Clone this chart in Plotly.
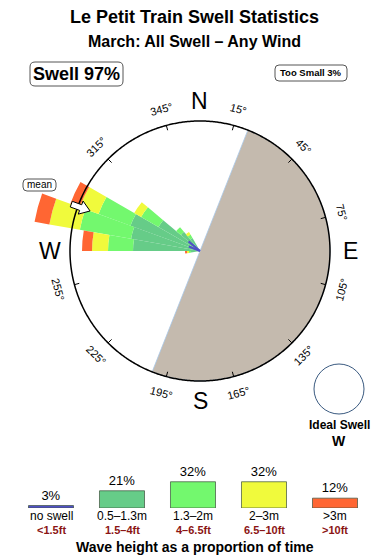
import numpy as np
import plotly.graph_objects as go

W, H = 390, 560
CX, CY = 200, 251          # rose centre (px)
R_CIRCLE = 130             # compass circle radius (radial units = px)
R_MAX = 175                # radial range of the polar area

# ---------------- data ----------------
directions = [265, 275, 285, 295, 305, 315, 325]      # bin centres (deg)
bin_width = 10
band_05_13 = [9, 67, 70, 74, 48, 25, 15]              # 0.5-1.3m
band_13_2 = [2, 25, 52, 34, 20, 6, 4]                 # 1.3-2m
band_2_3 = [2, 16, 31, 20, 8, 0, 3]                   # 2-3m
band_3p = [2, 10, 15, 10, 0, 0, 0]                    # >3m
noswell_dirs = [292, 310]
noswell_len = [12, 15]
mean_dir = 290

land_start, land_end = 21.6, 201.6

tick_deg = [15, 45, 75, 105, 135, 165, 195, 225, 255, 315, 345]
compass = ["N", "E", "S", "W"]
compass_deg = [0, 90, 180, 270]

legend_pct = [3, 21, 32, 32, 12]
legend_m = ["no swell", "0.5\u20131.3m", "1.3\u20132m", "2\u20133m", ">3m"]
legend_ft = ["<1.5ft", "1.5\u20134ft", "4\u20136.5ft", "6.5\u201310ft", ">10ft"]
band_colors = ["#5050C8", "#66CC88", "#73F86E", "#F0FA3C", "#FF6633"]

title = "Le Petit Train Swell Statistics"
subtitle = "March: All Swell \u2013 Any Wind"
swell_txt = "Swell 97%"
small_txt = "Too Small 3%"
ideal_txt = "Ideal Swell"
ideal_dir = "W"

FONT = "Liberation Sans, Arial, sans-serif"
LAND = "#C4BAAE"


def px(x):
    return x / W


def py(y):
    return 1 - y / H


def ann(x, y, text, size, color="black", angle=0, xref="paper"):
    return dict(x=x, y=py(y), xref=xref, yref="paper", text=text, showarrow=False,
                xanchor="center", yanchor="middle", textangle=angle,
                font=dict(family=FONT, size=size, color=color))


fig = go.Figure()

# land sector
fig.add_trace(go.Barpolar(r=[R_CIRCLE], theta=[(land_start + land_end) / 2],
                          width=[land_end - land_start], base=[0],
                          marker=dict(color=LAND, line=dict(color="#A8C8E8", width=0.8)),
                          hoverinfo="skip", showlegend=False))

# swell bands
bands = [band_05_13, band_13_2, band_2_3, band_3p]
base = np.zeros(len(directions))
for vals, col in zip(bands, band_colors[1:]):
    v = np.array(vals, dtype=float)
    fig.add_trace(go.Barpolar(r=v, theta=directions, width=[bin_width] * len(directions),
                              base=base.copy(),
                              marker=dict(color=col, line=dict(width=0)),
                              hoverinfo="skip", showlegend=False))
    base = base + v

# compass circle
th = np.linspace(0, 360, 721)
fig.add_trace(go.Scatterpolar(r=[R_CIRCLE] * len(th), theta=th, mode="lines",
                              line=dict(color="black", width=1.5),
                              hoverinfo="skip", showlegend=False))

# ticks
tr, tt = [], []
for t in tick_deg:
    tr += [R_CIRCLE - 5, R_CIRCLE, None]
    tt += [t, t, None]
fig.add_trace(go.Scatterpolar(r=tr, theta=tt, mode="lines",
                              line=dict(color="black", width=1),
                              hoverinfo="skip", showlegend=False))

# no swell lines
nr, nt = [], []
for d, l in zip(noswell_dirs, noswell_len):
    nr += [0, l, None]
    nt += [d, d, None]
fig.add_trace(go.Scatterpolar(r=nr, theta=nt, mode="lines",
                              line=dict(color=band_colors[0], width=2),
                              hoverinfo="skip", showlegend=False))

# mean arrow (polygon computed from mean direction)
shape_uv = [(0, -3), (10, -3), (10, -7), (20, 0), (10, 7), (10, 3), (0, 3), (0, -3)]
r0 = 137
b = np.radians(mean_dir)
d = np.array([np.sin(b), np.cos(b)])
p = np.array([np.cos(b), -np.sin(b)])
ar, at = [], []
for u, v in shape_uv:
    pt = (r0 - u) * d + v * p
    ar.append(float(np.hypot(*pt)))
    at.append(float(np.degrees(np.arctan2(pt[0], pt[1])) % 360))
fig.add_trace(go.Scatterpolar(r=ar, theta=at, mode="lines", fill="toself",
                              fillcolor="white", line=dict(color="black", width=1),
                              hoverinfo="skip", showlegend=False))

# legend bars
xs = list(range(len(legend_pct)))
fig.add_trace(go.Bar(x=xs, y=legend_pct, width=0.634,
                     marker=dict(color=band_colors, line=dict(color="rgba(60,80,60,0.7)", width=1)),
                     text=[f"{v}%" for v in legend_pct], textposition="outside",
                     textfont=dict(family=FONT, size=13, color="black"),
                     cliponaxis=False, xaxis="x", yaxis="y",
                     hoverinfo="skip", showlegend=False))

annotations = []
for i, (m, f) in enumerate(zip(legend_m, legend_ft)):
    annotations.append(ann(i, 516, m, 12, xref="x"))
    annotations.append(ann(i, 530, "<b>" + f.replace("<", "&lt;").replace(">", "&gt;") + "</b>",
                           11, color="#8B1414", xref="x"))
annotations.append(ann(px(195), 546.5, "<b>Wave height as a proportion of time</b>", 14))

# titles
annotations.append(ann(px(194), 17, f"<b>{title}</b>", 18))
annotations.append(ann(px(194), 42, f"<b>{subtitle}</b>", 16))
annotations.append(ann(px(76), 74, f"<b>{swell_txt}</b>", 18))
annotations.append(ann(px(311), 73, f"<b>{small_txt}</b>", 9.5))
annotations.append(ann(px(39.5), 185, "mean", 10))
annotations.append(ann(px(339), 425, f"<b>{ideal_txt}</b>", 12))
annotations.append(ann(px(339), 441, f"<b>{ideal_dir}</b>", 14))

# degree labels
for t in tick_deg:
    rl = 147
    x = CX + rl * np.sin(np.radians(t))
    y = CY - rl * np.cos(np.radians(t))
    ang = ((t + 90) % 180) - 90
    annotations.append(ann(px(x), y, f"{t}\u00b0", 11, angle=ang))
# compass letters
for c, t in zip(compass, compass_deg):
    rl = 150
    x = CX + rl * np.sin(np.radians(t))
    y = CY - rl * np.cos(np.radians(t))
    annotations.append(ann(px(x), y, c, 23))


def rounded(x0, y0, x1, y1, r):
    pts = [
        f"M {px(x0 + r)},{py(y0)}",
        f"L {px(x1 - r)},{py(y0)}",
        f"Q {px(x1)},{py(y0)} {px(x1)},{py(y0 + r)}",
        f"L {px(x1)},{py(y1 - r)}",
        f"Q {px(x1)},{py(y1)} {px(x1 - r)},{py(y1)}",
        f"L {px(x0 + r)},{py(y1)}",
        f"Q {px(x0)},{py(y1)} {px(x0)},{py(y1 - r)}",
        f"L {px(x0)},{py(y0 + r)}",
        f"Q {px(x0)},{py(y0)} {px(x0 + r)},{py(y0)}",
        "Z",
    ]
    return " ".join(pts)


shapes = [
    dict(type="path", path=rounded(30, 62, 123, 86, 5), xref="paper", yref="paper",
         line=dict(color="#555555", width=1)),
    dict(type="path", path=rounded(275, 65, 347, 81, 4), xref="paper", yref="paper",
         line=dict(color="#555555", width=1)),
    dict(type="path", path=rounded(23, 179, 56, 191, 4), xref="paper", yref="paper",
         line=dict(color="#555555", width=1), fillcolor="white"),
    dict(type="circle", x0=px(314), x1=px(364), y0=py(414), y1=py(364), xref="paper", yref="paper",
         line=dict(color="#3A5A80", width=1)),
]

bar_left, bar_right = 15.5, 370.5
fig.update_layout(
    width=W, height=H, margin=dict(l=0, r=0, t=0, b=0),
    paper_bgcolor="white", plot_bgcolor="white",
    polar=dict(
        domain=dict(x=[px(CX - R_MAX), px(CX + R_MAX)], y=[py(CY + R_MAX), py(CY - R_MAX)]),
        bgcolor="rgba(0,0,0,0)", barmode="overlay",
        radialaxis=dict(visible=False, range=[0, R_MAX]),
        angularaxis=dict(visible=False, rotation=90, direction="clockwise"),
    ),
    xaxis=dict(domain=[px(bar_left), px(bar_right)], range=[-0.5, 4.5], visible=False, fixedrange=True),
    yaxis=dict(domain=[py(508), py(508 - 0.82 * 40)], range=[0, 40], visible=False, fixedrange=True),
    annotations=annotations, shapes=shapes,
    font=dict(family=FONT),
)

fig.write_html("out.html")
